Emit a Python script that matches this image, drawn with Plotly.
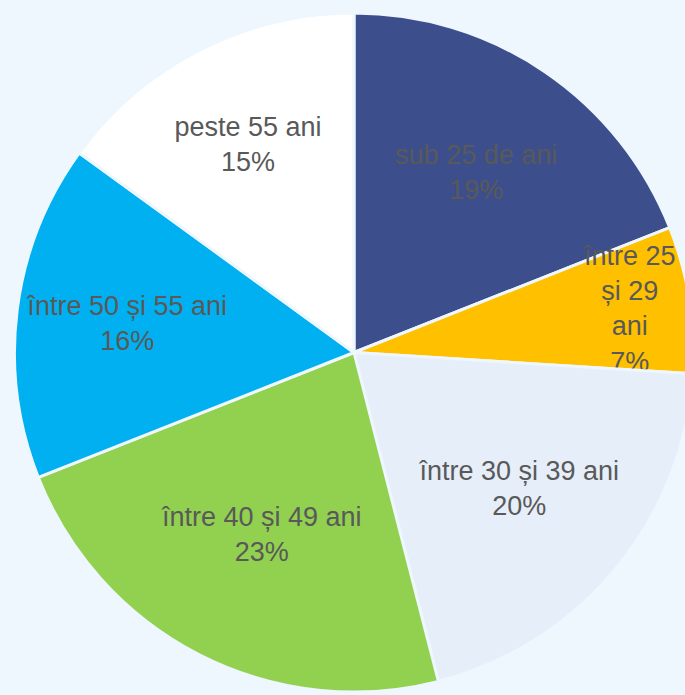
import plotly.graph_objects as go

labels = ["sub 25 de ani", "între 25 și 29 ani", "între 30 și 39 ani",
          "între 40 și 49 ani", "între 50 și 55 ani", "peste 55 ani"]
display_labels = ["sub 25 de ani", "între 25<br>și 29<br>ani", "între 30 și 39 ani",
                  "între 40 și 49 ani", "între 50 și 55 ani", "peste 55 ani"]
values = [19, 7, 20, 23, 16, 15]
colors = ["#3C4F8C", "#FFC000", "#E6EEF9", "#92D050", "#00B0F0", "#FFFFFF"]
bg = "#EEF6FE"

fig = go.Figure(go.Pie(
    labels=labels,
    values=values,
    text=display_labels,
    texttemplate="%{text}<br>%{value}%",
    textinfo="text",
    textposition="inside",
    insidetextorientation="horizontal",
    sort=False,
    direction="clockwise",
    rotation=0,
    marker=dict(colors=colors, line=dict(color=bg, width=3)),
    textfont=dict(family="Liberation Sans, Arial, sans-serif", size=27, color="#595959"),
    hoverinfo="label+percent",
))

fig.update_layout(
    width=695, height=695,
    margin=dict(l=13, r=0, t=13, b=3),
    paper_bgcolor=bg, plot_bgcolor=bg,
    showlegend=False,
    uniformtext=dict(minsize=27, mode="show"),
)

fig.write_html(
    "out.html",
    config={"displayModeBar": False},
    post_script=(
        "document.body.style.margin='0';"
        "document.body.style.overflow='hidden';"
        "document.body.style.background='" + bg + "';"
    ),
)
